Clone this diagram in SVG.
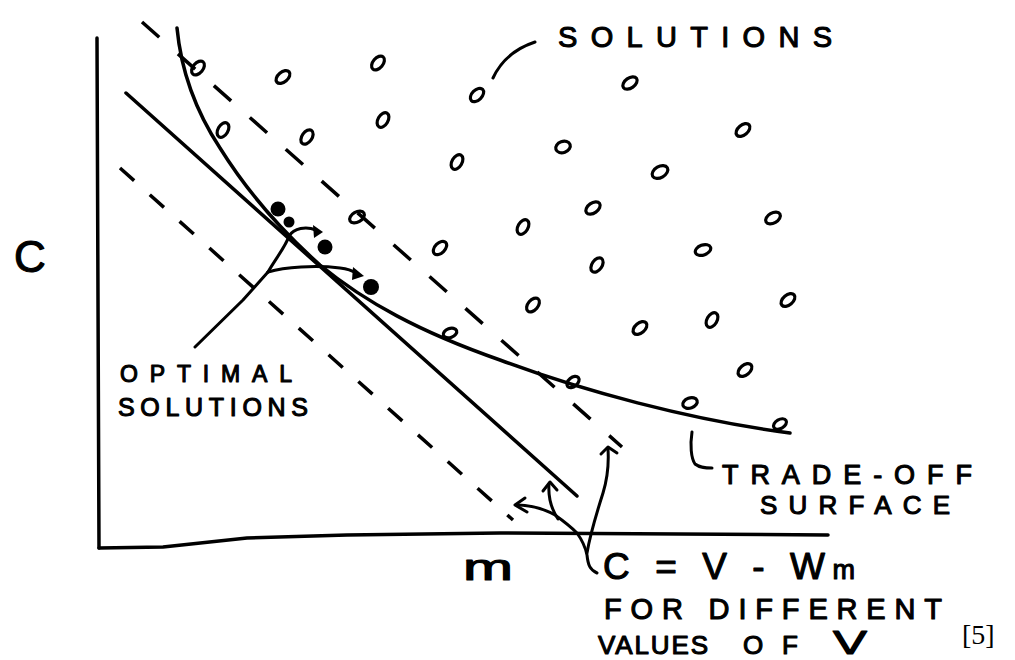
<svg xmlns="http://www.w3.org/2000/svg" width="1015" height="660" viewBox="0 0 1015 660">
<style>
.ln{fill:none;stroke:#000;stroke-width:3.5;stroke-linecap:round;stroke-linejoin:round}
.ld{fill:none;stroke:#000;stroke-width:3;stroke-linecap:round;stroke-linejoin:round}
.dash1{fill:none;stroke:#000;stroke-width:3.5;stroke-dasharray:23 25}
.dash2{fill:none;stroke:#000;stroke-width:3.5;stroke-dasharray:19 21}
.sol{fill:none;stroke:#000;stroke-width:3.2}
.opt{fill:#000}
.hw{font-family:"Liberation Sans",Arial,sans-serif;fill:#000;stroke:#000;stroke-width:1.1;stroke-linejoin:round}
.ref{font-family:"Liberation Serif","Times New Roman",serif;fill:#000}
</style>
<rect width="1015" height="660" fill="#fff"/>

<g id="axes">
  <path class="ln" d="M97,38 L98,300 L99,548"/>
  <path class="ln" d="M99,548 L163,547 L247,538 L347,535 L500,533 L828,535"/>
</g>

<g id="dashed-lines">
  <line class="dash1" x1="142" y1="22" x2="622" y2="447"/>
  <line class="dash2" x1="120" y1="168" x2="513" y2="520"/>
</g>

<g id="optimal-line">
  <line class="ln" x1="126" y1="93" x2="577" y2="496"/>
</g>

<g id="trade-off-surface">
  <path class="ln" d="M177,28 C181,70 195,110 220,148 C245,188 275,225 320,265 C365,302 420,332 500,360 C580,390 690,420 790,433"/>
</g>

<g id="solutions">
  <g transform="translate(198,68) rotate(-50)"><ellipse class="sol" rx="8" ry="5"/></g>
  <g transform="translate(283,77) rotate(-40)"><ellipse class="sol" rx="8" ry="5"/></g>
  <g transform="translate(378,63) rotate(-50)"><ellipse class="sol" rx="8" ry="5"/></g>
  <g transform="translate(477,95) rotate(-45)"><ellipse class="sol" rx="8" ry="5"/></g>
  <g transform="translate(223,130) rotate(-60)"><ellipse class="sol" rx="8" ry="5"/></g>
  <g transform="translate(307,137) rotate(-55)"><ellipse class="sol" rx="8" ry="5"/></g>
  <g transform="translate(383,120) rotate(-60)"><ellipse class="sol" rx="8" ry="5"/></g>
  <g transform="translate(457,162) rotate(-60)"><ellipse class="sol" rx="8" ry="5"/></g>
  <g transform="translate(357,217) rotate(-30)"><ellipse class="sol" rx="8" ry="5"/></g>
  <g transform="translate(440,248) rotate(-45)"><ellipse class="sol" rx="8" ry="5"/></g>
  <g transform="translate(630,83) rotate(-35)"><ellipse class="sol" rx="8" ry="5"/></g>
  <g transform="translate(743,130) rotate(-40)"><ellipse class="sol" rx="8" ry="5"/></g>
  <g transform="translate(563,147) rotate(-20)"><ellipse class="sol" rx="7.5" ry="5.5"/></g>
  <g transform="translate(660,172) rotate(-30)"><ellipse class="sol" rx="8.5" ry="5.5"/></g>
  <g transform="translate(593,208) rotate(-35)"><ellipse class="sol" rx="8" ry="5"/></g>
  <g transform="translate(523,227) rotate(-60)"><ellipse class="sol" rx="8" ry="5"/></g>
  <g transform="translate(773,218) rotate(-30)"><ellipse class="sol" rx="8" ry="5"/></g>
  <g transform="translate(703,250) rotate(-20)"><ellipse class="sol" rx="8" ry="5"/></g>
  <g transform="translate(597,265) rotate(-55)"><ellipse class="sol" rx="8" ry="5"/></g>
  <g transform="translate(533,305) rotate(-50)"><ellipse class="sol" rx="8" ry="5"/></g>
  <g transform="translate(788,300) rotate(-40)"><ellipse class="sol" rx="8" ry="5"/></g>
  <g transform="translate(712,320) rotate(-60)"><ellipse class="sol" rx="8" ry="5"/></g>
  <g transform="translate(640,328) rotate(-40)"><ellipse class="sol" rx="8" ry="5"/></g>
  <g transform="translate(450,333) rotate(-20)"><ellipse class="sol" rx="7" ry="4.5"/></g>
  <g transform="translate(745,370) rotate(-40)"><ellipse class="sol" rx="8" ry="5"/></g>
  <g transform="translate(690,403) rotate(-20)"><ellipse class="sol" rx="7.5" ry="5"/></g>
  <g transform="translate(573,382) rotate(-40)"><ellipse class="sol" rx="7" ry="4.5"/></g>
  <g transform="translate(780,424) rotate(-30)"><ellipse class="sol" rx="7" ry="4.5"/></g>
</g>

<g id="optimal-solutions">
  <circle class="opt" cx="278" cy="209" r="7.5"/>
  <circle class="opt" cx="289" cy="222" r="5.5"/>
  <circle class="opt" cx="325" cy="247" r="7.5"/>
  <circle class="opt" cx="371" cy="287" r="8"/>
</g>

<g id="connectors">
  <path class="ld" d="M493,78 Q505,52 535,42"/>
  <path class="ld" d="M195,347 L243,300 L268,272"/>
  <path class="ld" d="M268,272 C276,258 286,246 289,236 C294,228 306,226 316,230"/>
  <path class="opt" d="M313,225 L323,232 L314,238 Z"/>
  <path class="ld" d="M268,272 C285,267 315,265 340,268 C348,269 353,271 356,273"/>
  <path class="opt" d="M353,267 L364,276 L352,280 Z"/>
  <path class="ld" d="M692,432 C690,445 691,458 695,464 C700,468 706,468 712,468"/>
  <path class="ld" d="M597,573 C590,570 588,565 587,555 C585,545 582,540 577,533 C570,526 562,520 555,515 C546,510 532,505 517,505"/>
  <path class="ld" d="M525,498 L515,505 L527,512"/>
  <path class="ld" d="M558,519 C552,510 548,498 549,484"/>
  <path class="ld" d="M543,491 L550,482 L557,490"/>
  <path class="ld" d="M587,553 C590,535 596,515 603,493 C607,480 609,465 608,449"/>
  <path class="ld" d="M601,454 L608,447 L617,453"/>
</g>

<g id="labels">
  <text class="hw" x="14" y="272" font-size="44">C</text>
  <text class="hw" x="463" y="580" font-size="36" textLength="50" lengthAdjust="spacingAndGlyphs" stroke-width="0.6">m</text>
  <text class="hw" x="558" y="47" font-size="29" textLength="274" lengthAdjust="spacing">SOLUTIONS</text>
  <text class="hw" x="120" y="382" font-size="23" textLength="172" lengthAdjust="spacing">OPTIMAL</text>
  <text class="hw" x="118" y="416" font-size="25" textLength="190" lengthAdjust="spacing">SOLUTIONS</text>
  <text class="hw" x="722" y="484" font-size="27" textLength="250" lengthAdjust="spacing">TRADE-OFF</text>
  <text class="hw" x="760" y="514" font-size="26" textLength="190" lengthAdjust="spacing">SURFACE</text>
  <text class="hw" x="603" y="579" font-size="37" textLength="252" lengthAdjust="spacing">C = V - W<tspan font-size="27">m</tspan></text>
  <text class="hw" x="604" y="619" font-size="29" textLength="338" lengthAdjust="spacing">FOR DIFFERENT</text>
  <text class="hw" x="598" y="654" font-size="26" textLength="110" lengthAdjust="spacing">VALUES</text>
  <text class="hw" x="743" y="654" font-size="26" textLength="55" lengthAdjust="spacing">OF</text>
  <text class="hw" x="833" y="654" font-size="33" textLength="34" lengthAdjust="spacingAndGlyphs">V</text>
  <text class="ref" x="962" y="644" font-size="28">[5]</text>
</g>
</svg>
